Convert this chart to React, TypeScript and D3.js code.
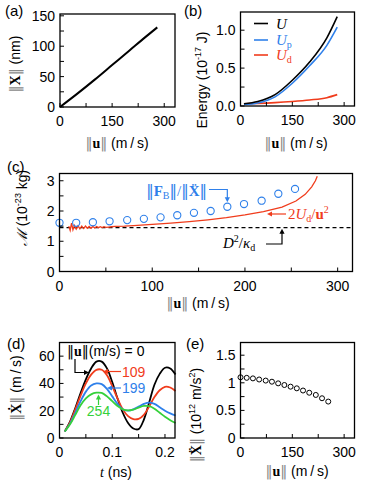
import React from 'react';
import * as d3 from 'd3';

// ---------- Panel (a) ----------
const aSpeed = [0, 50, 100, 150, 200, 250, 280];
const aDisp = [0, 22, 45, 69, 93, 117, 131];
const aXTicks = [0, 75, 150, 225, 300];
const aXLabels = [0, 150, 300];
const aYTicks = [0, 25, 50, 75, 100, 125, 150];
const aYLabels = [0, 50, 100, 150];

// ---------- Panel (b) ----------
const bSpeed = [10, 50, 100, 150, 200, 250, 280];
const bU = [0.03, 0.06, 0.15, 0.34, 0.58, 0.9, 1.18];
const bUp = [0.02, 0.04, 0.12, 0.3, 0.53, 0.8, 1.04];
const bUd = [0.03, 0.035, 0.045, 0.06, 0.08, 0.11, 0.15];
const bYTicks = [0, 0.25, 0.5, 0.75, 1.0];
const bYLabels = [0, 0.5, 1.0];

// ---------- Panel (c) ----------
const cSpeedFB = [0, 18, 36, 54, 73, 91, 109, 127, 145, 163, 181, 199, 218, 236, 254];
const cMassFB = [1.61, 1.61, 1.63, 1.66, 1.7, 1.74, 1.79, 1.86, 1.94, 2.0, 2.14, 2.23, 2.34, 2.57, 2.73];
const cSpeedUd = [10, 11.5, 13, 14.5, 16, 18, 20, 22, 24, 26, 28, 30, 32, 34, 36, 38, 40, 42, 44, 46, 48, 50, 53, 56, 60, 70, 80, 100, 120, 140, 160, 180, 200, 220, 240, 255, 265, 272, 276, 278];
const cMassUd = [1.5, 1.36, 1.6, 1.38, 1.52, 1.4, 1.51, 1.41, 1.5, 1.42, 1.5, 1.43, 1.49, 1.43, 1.49, 1.44, 1.49, 1.45, 1.48, 1.45, 1.48, 1.46, 1.47, 1.48, 1.49, 1.5, 1.52, 1.56, 1.6, 1.65, 1.71, 1.78, 1.87, 1.98, 2.13, 2.33, 2.55, 2.8, 3.0, 3.15];
const cMassD2 = 1.45;
const cXTicks = [0, 50, 100, 150, 200, 250, 300];
const cXLabels = [0, 100, 200, 300];
const cYTicks = [0, 0.5, 1, 1.5, 2, 2.5, 3];
const cYLabels = [0, 1, 2, 3];

// ---------- Panel (d) ----------
const dTime = [0.01, 0.02, 0.03, 0.04, 0.05, 0.06, 0.07, 0.08, 0.09, 0.1, 0.11, 0.12, 0.13, 0.14, 0.15, 0.16, 0.17, 0.18, 0.19, 0.2, 0.21, 0.22];
const dVel0 = [4.8, 12, 22, 33, 43, 51, 56, 56, 51, 41, 29, 18.5, 11, 7, 6.5, 13.5, 26, 39, 47, 51.5, 51, 46.5];
const dVel109 = [4.8, 11.5, 21, 31, 40, 46.5, 50, 50, 46, 38, 29, 21, 16, 13.8, 14, 17, 23, 30, 35, 37.5, 37, 34.5];
const dVel199 = [4.8, 10.5, 18.5, 27, 34, 38.5, 40, 39.5, 36, 30.5, 25, 21, 20, 21, 23, 25, 26, 25, 22.5, 20, 18, 16.5];
const dVel254 = [4.8, 10, 17, 24, 29, 32, 33.2, 33, 30.5, 27, 23.5, 21, 20.2, 20.8, 22.3, 23.5, 23.3, 21.5, 18.5, 15.5, 13, 11];
const dSpeedLabels = ['0', '109', '199', '254'];
const dXTicks = [0, 0.05, 0.1, 0.15, 0.2];
const dXLabels = [0, 0.1, 0.2];
const dYTicks = [0, 10, 20, 30, 40, 50, 60];
const dYLabels = [0, 20, 40, 60];

// ---------- Panel (e) ----------
const eSpeed = [0, 18, 36, 54, 73, 91, 109, 127, 145, 163, 181, 199, 218, 236, 254];
const eAcc = [1.1, 1.09, 1.08, 1.06, 1.04, 1.02, 0.99, 0.96, 0.93, 0.9, 0.86, 0.82, 0.78, 0.72, 0.66];
const eYTicks = [0, 0.25, 0.5, 0.75, 1, 1.25, 1.5];
const eYLabels = [0, 0.5, 1, 1.5];

const SANS = "'Liberation Sans', Arial, Helvetica, sans-serif";
const SERIF = "'Liberation Serif', 'DejaVu Serif', serif";
const NORMF = "'DejaVu Sans', sans-serif";
const BLUE = '#2f80ea';
const RED = '#f03c1c';
const GREEN = '#35d13a';
const GREY = '#8a8a8a';

type S = d3.ScaleLinear<number, number>;

function Axes(p: { x: S; y: S; xt: number[]; xl: number[]; yt: number[]; yl: number[]; fx: (v: number) => string; fy: (v: number) => string }) {
  const { x, y, xt, xl, yt, yl, fx, fy } = p;
  const [L, R] = x.range();
  const [B, T] = y.range();
  return (
    <g>
      {xt.map((v) => (
        <line key={'xt' + v} x1={x(v)} x2={x(v)} y1={B} y2={B - 4} stroke="#000" strokeWidth={1} />
      ))}
      {yt.map((v) => (
        <line key={'yt' + v} x1={L} x2={L + 4} y1={y(v)} y2={y(v)} stroke="#000" strokeWidth={1} />
      ))}
      {xl.map((v) => (
        <text key={'xl' + v} x={x(v)} y={B + 19} textAnchor="middle" fontSize={14}>
          {fx(v)}
        </text>
      ))}
      {yl.map((v) => (
        <text key={'yl' + v} x={L - 5} y={y(v) + 5} textAnchor="end" fontSize={14}>
          {fy(v)}
        </text>
      ))}
      <rect x={L} y={T} width={R - L} height={B - T} fill="none" stroke="#000" strokeWidth={1.3} />
    </g>
  );
}

function head(x: number, y: number, dir: 'l' | 'r' | 'u' | 'd', color: string) {
  const l = 5, w = 2.6;
  let pts = '';
  if (dir === 'l') pts = `${x},${y} ${x + l},${y - w} ${x + l},${y + w}`;
  if (dir === 'r') pts = `${x},${y} ${x - l},${y - w} ${x - l},${y + w}`;
  if (dir === 'u') pts = `${x},${y} ${x - w},${y + l} ${x + w},${y + l}`;
  if (dir === 'd') pts = `${x},${y} ${x - w},${y - l} ${x + w},${y - l}`;
  return <polygon points={pts} fill={color} />;
}

function SpeedLabel({ x, y }: { x: number; y: number }) {
  return (
    <text x={x} y={y} textAnchor="middle" fontSize={14}>
      <tspan fontFamily={NORMF} fill={GREY}>‖</tspan>
      <tspan fontFamily={SERIF} fontWeight="bold">u</tspan>
      <tspan fontFamily={NORMF} fill={GREY}>‖</tspan>
      <tspan> (m{'\u2009'}/{'\u2009'}s)</tspan>
    </text>
  );
}

export default function App() {
  // scales
  const xa = d3.scaleLinear().domain([0, 331]).range([60, 175]);
  const ya = d3.scaleLinear().domain([0, 153]).range([107, 14]);
  const xb = d3.scaleLinear().domain([0, 330]).range([240.5, 354.5]);
  const yb = d3.scaleLinear().domain([0, 1.24]).range([106, 12]);
  const xc = d3.scaleLinear().domain([0, 316]).range([59.5, 352.5]);
  const yc = d3.scaleLinear().domain([0, 3.24]).range([271.5, 173.5]);
  const xd = d3.scaleLinear().domain([0, 0.219]).range([59.5, 175]);
  const yd = d3.scaleLinear().domain([0, 70]).range([438, 342.5]);
  const xe = d3.scaleLinear().domain([0, 330]).range([240.5, 354.5]);
  const ye = d3.scaleLinear().domain([0, 1.73]).range([438, 342.5]);

  const mk = (x: S, y: S, curve: d3.CurveFactory) =>
    d3.line<[number, number]>().x((d) => x(d[0])).y((d) => y(d[1])).curve(curve);
  const zip = (a: number[], b: number[]) => a.map((v, i) => [v, b[i]] as [number, number]);

  const la = mk(xa, ya, d3.curveMonotoneX);
  const lb = mk(xb, yb, d3.curveMonotoneX);
  const lc = mk(xc, yc, d3.curveLinear);
  const ld = mk(xd, yd, d3.curveCatmullRom.alpha(0.5));

  const f0 = (v: number) => String(v);
  const fb = (v: number) => v.toFixed(1);

  const dSeries = [
    { v: dVel0, c: '#000' },
    { v: dVel109, c: RED },
    { v: dVel199, c: BLUE },
    { v: dVel254, c: GREEN },
  ];

  // annotation anchors (c)
  const fbX = xc(cSpeedFB[10]);
  const fbY = yc(cMassFB[10]);
  const d2Y = yc(cMassD2);

  return (
    <svg width={365} height={483} style={{ position: 'absolute', left: 0, top: 0 }} fontFamily={SANS}>
      <rect width={365} height={483} fill="#fff" />

      {/* ===== (a) ===== */}
      <text x={5} y={16} fontSize={15}>(a)</text>
      <path d={la(zip(aSpeed, aDisp)) || ''} fill="none" stroke="#000" strokeWidth={2} />
      <Axes x={xa} y={ya} xt={aXTicks} xl={aXLabels} yt={aYTicks} yl={aYLabels} fx={f0} fy={f0} />
      <SpeedLabel x={117} y={148} />
      <text transform="translate(20,64) rotate(-90)" textAnchor="middle" fontSize={14}>
        <tspan fontFamily={NORMF} fill={GREY}>‖</tspan>
        <tspan fontFamily={SERIF} fontWeight="bold">X</tspan>
        <tspan fontFamily={NORMF} fill={GREY}>‖</tspan>
        <tspan> (nm)</tspan>
      </text>

      {/* ===== (b) ===== */}
      <text x={184} y={16} fontSize={15}>(b)</text>
      <path d={lb(zip(bSpeed, bUd)) || ''} fill="none" stroke={RED} strokeWidth={1.6} />
      <path d={lb(zip(bSpeed, bUp)) || ''} fill="none" stroke={BLUE} strokeWidth={1.6} />
      <path d={lb(zip(bSpeed, bU)) || ''} fill="none" stroke="#000" strokeWidth={1.6} />
      <Axes x={xb} y={yb} xt={aXTicks} xl={aXLabels} yt={bYTicks} yl={bYLabels} fx={f0} fy={fb} />
      <SpeedLabel x={296} y={148} />
      <text transform="translate(207,80) rotate(-90)" textAnchor="middle" fontSize={14}>
        <tspan>Energy (10</tspan>
        <tspan fontSize={9} dy={-6}>-17</tspan>
        <tspan dy={6}> J)</tspan>
      </text>
      {/* legend */}
      <line x1={254} x2={268} y1={23.5} y2={23.5} stroke="#000" strokeWidth={1.6} />
      <line x1={254} x2={268} y1={40} y2={40} stroke={BLUE} strokeWidth={1.6} />
      <line x1={254} x2={268} y1={55} y2={55} stroke={RED} strokeWidth={1.6} />
      <text x={276} y={28.5} fontSize={15} fontFamily={SERIF} fontStyle="italic">U</text>
      <text x={276} y={45} fontSize={15} fontFamily={SERIF} fill={BLUE}>
        <tspan fontStyle="italic">U</tspan>
        <tspan fontSize={10} dy={3}>p</tspan>
      </text>
      <text x={276} y={60} fontSize={15} fontFamily={SERIF} fill={RED}>
        <tspan fontStyle="italic">U</tspan>
        <tspan fontSize={10} dy={3}>d</tspan>
      </text>

      {/* ===== (c) ===== */}
      <text x={7} y={172} fontSize={15}>(c)</text>
      <line x1={xc(0)} x2={xc(316)} y1={d2Y} y2={d2Y} stroke="#000" strokeWidth={1.3} strokeDasharray="4,3" />
      <path d={lc(zip(cSpeedUd, cMassUd)) || ''} fill="none" stroke={RED} strokeWidth={1.3} />
      {cSpeedFB.map((u, i) => (
        <circle key={'fb' + i} cx={xc(u)} cy={yc(cMassFB[i])} r={3.6} fill="none" stroke={BLUE} strokeWidth={1.1} />
      ))}
      <Axes x={xc} y={yc} xt={cXTicks} xl={cXLabels} yt={cYTicks} yl={cYLabels} fx={f0} fy={f0} />
      <SpeedLabel x={198} y={308} />
      <text transform="translate(27,208) rotate(-90)" textAnchor="middle" fontSize={14}>
        <tspan fontFamily={SERIF} fontStyle="italic">ℳ</tspan>
        <tspan> (10</tspan>
        <tspan fontSize={9} dy={-6}>-23</tspan>
        <tspan dy={6}> kg)</tspan>
      </text>
      {/* FB annotation */}
      <text x={207} y={196} textAnchor="end" fontSize={15} fontFamily={SERIF} fill={BLUE}>
        <tspan fontFamily={NORMF}>‖</tspan>
        <tspan fontWeight="bold">F</tspan>
        <tspan fontSize={10} dy={3}>B</tspan>
        <tspan fontFamily={NORMF} dy={-3}>‖</tspan>
        <tspan>/</tspan>
        <tspan fontFamily={NORMF}>‖</tspan>
        <tspan fontWeight="bold">Ẍ</tspan>
        <tspan fontFamily={NORMF}>‖</tspan>
      </text>
      <path d={`M209,189.5 H${fbX} V${fbY - 8}`} fill="none" stroke={BLUE} strokeWidth={1.2} />
      {head(fbX, fbY - 4.5, 'd', BLUE)}
      {/* 2Ud/u^2 annotation */}
      <text x={288} y={219} fontSize={15} fontFamily={SERIF} fill={RED}>
        <tspan>2</tspan>
        <tspan fontStyle="italic">U</tspan>
        <tspan fontSize={10} dy={3}>d</tspan>
        <tspan dy={-3}>/</tspan>
        <tspan fontWeight="bold">u</tspan>
        <tspan fontSize={10} dy={-6}>2</tspan>
      </text>
      <line x1={286} x2={271} y1={214} y2={214} stroke={RED} strokeWidth={1.2} />
      {head(267, 214, 'l', RED)}
      {/* D2/kd annotation */}
      <text x={223} y={248} fontSize={15} fontFamily={SERIF}>
        <tspan fontStyle="italic">D</tspan>
        <tspan fontSize={10} dy={-6}>2</tspan>
        <tspan dy={6}>/</tspan>
        <tspan fontStyle="italic">κ</tspan>
        <tspan fontSize={10} dy={3}>d</tspan>
      </text>
      <path d={`M266,244 H282 V${d2Y + 5}`} fill="none" stroke="#000" strokeWidth={1.2} />
      {head(282, d2Y + 1, 'u', '#000')}

      {/* ===== (d) ===== */}
      <text x={7} y={349} fontSize={15}>(d)</text>
      {dSeries.map((s, i) => (
        <path key={'d' + i} d={ld(zip(dTime, s.v)) || ''} fill="none" stroke={s.c} strokeWidth={1.8} />
      ))}
      <Axes x={xd} y={yd} xt={dXTicks} xl={dXLabels} yt={dYTicks} yl={dYLabels} fx={f0} fy={f0} />
      <text x={116} y={477} textAnchor="middle" fontSize={14}>
        <tspan fontFamily={SERIF} fontStyle="italic">t</tspan>
        <tspan> (ns)</tspan>
      </text>
      <text transform="translate(21,388) rotate(-90)" textAnchor="middle" fontSize={14}>
        <tspan fontFamily={NORMF} fill={GREY}>‖</tspan>
        <tspan fontFamily={SERIF} fontWeight="bold">Ẋ</tspan>
        <tspan fontFamily={NORMF} fill={GREY}>‖</tspan>
        <tspan> (m{'\u2009'}/{'\u2009'}s)</tspan>
      </text>
      <text x={67} y={356} fontSize={14}>
        <tspan fontFamily={NORMF}>‖</tspan>
        <tspan fontFamily={SERIF} fontWeight="bold">u</tspan>
        <tspan fontFamily={NORMF}>‖</tspan>
        <tspan>(m/s) = {dSpeedLabels[0]}</tspan>
      </text>
      <path d="M75,359 V372.5 H85" fill="none" stroke="#000" strokeWidth={1.2} />
      {head(89, 372.5, 'r', '#000')}
      <text x={122} y={377} fontSize={14} fill={RED}>{dSpeedLabels[1]}</text>
      <line x1={121} x2={107} y1={371.5} y2={371.5} stroke={RED} strokeWidth={1.2} />
      {head(103, 371.5, 'l', RED)}
      <text x={122} y={393} fontSize={14} fill={BLUE}>{dSpeedLabels[2]}</text>
      <line x1={121} x2={111} y1={388} y2={388} stroke={BLUE} strokeWidth={1.2} />
      {head(107, 388, 'l', BLUE)}
      <text x={98.5} y={416} textAnchor="middle" fontSize={14} fill={GREEN}>{dSpeedLabels[3]}</text>
      <line x1={98.5} x2={98.5} y1={405} y2={398} stroke={GREEN} strokeWidth={1.2} />
      {head(98.5, 394.5, 'u', GREEN)}

      {/* ===== (e) ===== */}
      <text x={186} y={349} fontSize={15}>(e)</text>
      {eSpeed.map((u, i) => (
        <circle key={'e' + i} cx={xe(u)} cy={ye(eAcc[i])} r={2.5} fill="none" stroke="#000" strokeWidth={1} />
      ))}
      <Axes x={xe} y={ye} xt={aXTicks} xl={aXLabels} yt={eYTicks} yl={eYLabels} fx={f0} fy={f0} />
      <SpeedLabel x={297} y={476} />
      <text transform="translate(201,415) rotate(-90)" textAnchor="middle" fontSize={14}>
        <tspan fontFamily={NORMF} fill={GREY}>‖</tspan>
        <tspan fontFamily={SERIF} fontWeight="bold">Ẍ</tspan>
        <tspan fontFamily={NORMF} fill={GREY}>‖</tspan>
        <tspan> (10</tspan>
        <tspan fontSize={9} dy={-6}>12</tspan>
        <tspan dy={6}> m/s</tspan>
        <tspan fontSize={9} dy={-6}>2</tspan>
        <tspan dy={6}>)</tspan>
      </text>
    </svg>
  );
}
